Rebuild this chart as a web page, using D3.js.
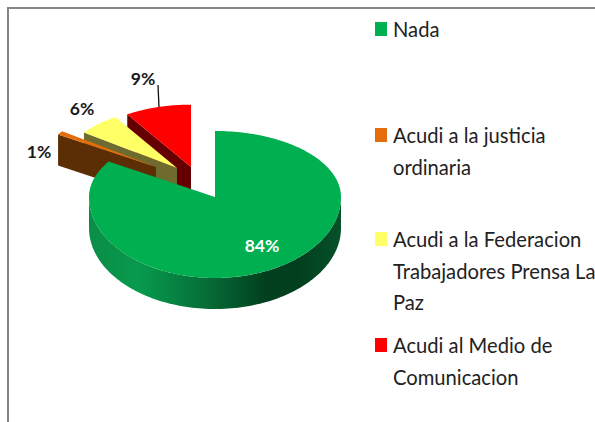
<!DOCTYPE html>
<html>
<head>
<meta charset="utf-8">
<script src="https://cdn.jsdelivr.net/npm/d3@7"></script>
<style>html,body{margin:0;padding:0;background:#fff;overflow:hidden}svg{display:block}</style>
</head>
<body>
<svg id="c" width="595" height="422"></svg>
<script>
const categories = ["Nada", "Acudi a la justicia ordinaria", "Acudi a la Federacion Trabajadores Prensa La Paz", "Acudi al Medio de Comunicacion"];
const values = [84, 1, 6, 9];
const valueLabels = ["84%", "1%", "6%", "9%"];
const legendLines = [["Nada"], ["Acudi a la justicia", "ordinaria"], ["Acudi a la Federacion", "Trabajadores Prensa La", "Paz"], ["Acudi al Medio de", "Comunicacion"]];
const topColors = ["#00B050", "#E46C0A", "#FFFF66", "#FF0000"];
const wallColors = ["#00703a", "#5C2E06", "#6F6B2E", "#660000"];

const svg = d3.select("#c");
const FONT = "Lato,'Liberation Sans',sans-serif";

// layout of the exploded 3D pie
const layout = [
  {cx: 215, cy: 197, r: 126},
  {cx: 156, cy: 167, r: 116},
  {cx: 177, cy: 168, r: 115},
  {cx: 191, cy: 167, r: 119}
];
const tiltBack = 0.524, tiltFront = 0.643, depth = 31;
const labelPos = [[262, 252], [39, 158], [82, 115], [143, 85]];
const legendY = [37, 143, 247, 353];
const swatchY = [22, 128, 232, 338];

const pie = d3.pie().sort(null).value(d => d).startAngle(0).endAngle(2 * Math.PI);
const arcs = pie(values);

function pt(g, a, rf = 1, dz = 0) {
  const c = Math.cos(a);
  return [g.cx + g.r * rf * Math.sin(a),
          g.cy - g.r * rf * c * (c > 0 ? tiltBack : tiltFront) + dz];
}
const line = d3.line();
const sample = (a, b, n = 120) => d3.range(n + 1).map(i => a + (b - a) * i / n);

const defs = svg.append("defs");
const grad = defs.append("linearGradient").attr("id", "rim")
  .attr("gradientUnits", "userSpaceOnUse")
  .attr("x1", layout[0].cx - layout[0].r).attr("x2", layout[0].cx + layout[0].r)
  .attr("y1", 0).attr("y2", 0);
[[0, "#0b8d47"], [0.2, "#079a4d"], [0.45, "#067038"], [0.7, "#02401f"], [0.83, "#023f1e"], [1, "#05512a"]]
  .forEach(s => grad.append("stop").attr("offset", s[0]).attr("stop-color", s[1]));

// frame
svg.append("path").attr("d", "M8,422V8H595").attr("fill", "none").attr("stroke", "#868686").attr("stroke-width", 2);

// back slices: red, yellow, orange (each with a side wall, then the top face)
[3, 2, 1].forEach(i => {
  const g = layout[i], a = arcs[i];
  const corner = pt(g, a.startAngle), apex = [g.cx, g.cy];
  svg.append("path")
    .attr("d", line([apex, corner, [corner[0], corner[1] + depth], [apex[0], apex[1] + depth]]) + "Z")
    .attr("fill", wallColors[i]);
  const pts = sample(a.startAngle, a.endAngle, 30).map(t => pt(g, t));
  svg.append("path").attr("d", line([apex, ...pts]) + "Z").attr("fill", topColors[i]);
});

// main slice rim and top
{
  const g = layout[0], a = arcs[0];
  const lo = Math.PI / 2, hi = 3 * Math.PI / 2;
  const front = sample(lo, hi);
  svg.append("path")
    .attr("d", line([...front.map(t => pt(g, t)), ...front.slice().reverse().map(t => pt(g, t, 1, depth))]) + "Z")
    .attr("fill", "url(#rim)");
  const pts = sample(a.startAngle, a.endAngle, 240).map(t => pt(g, t));
  svg.append("path").attr("d", line([[g.cx, g.cy], ...pts]) + "Z").attr("fill", topColors[0]);
}

// leader line for the 9% label
svg.append("line").attr("x1", 158).attr("y1", 85).attr("x2", 159).attr("y2", 107)
  .attr("stroke", "#111").attr("stroke-width", 1.3);

// value labels
svg.selectAll("text.v").data(valueLabels).enter().append("text").attr("class", "v")
  .attr("x", (d, i) => labelPos[i][0]).attr("y", (d, i) => labelPos[i][1])
  .attr("text-anchor", "middle").attr("font-family", FONT).attr("font-weight", 700)
  .attr("font-size", 17.5).attr("fill", (d, i) => i === 0 ? "#fff" : "#1a1a1a").text(d => d);

// legend
const lg = svg.selectAll("g.l").data(categories).enter().append("g").attr("class", "l");
lg.append("rect").attr("x", 375).attr("y", (d, i) => swatchY[i]).attr("width", 12).attr("height", 14)
  .attr("fill", (d, i) => topColors[i]);
lg.each(function (d, i) {
  d3.select(this).selectAll("text").data(legendLines[i]).enter().append("text")
    .attr("x", 393).attr("y", (l, j) => legendY[i] + j * 31.5)
    .attr("font-family", FONT).attr("font-size", 20.2).attr("fill", "#222").text(l => l);
});
</script>
</body>
</html>
